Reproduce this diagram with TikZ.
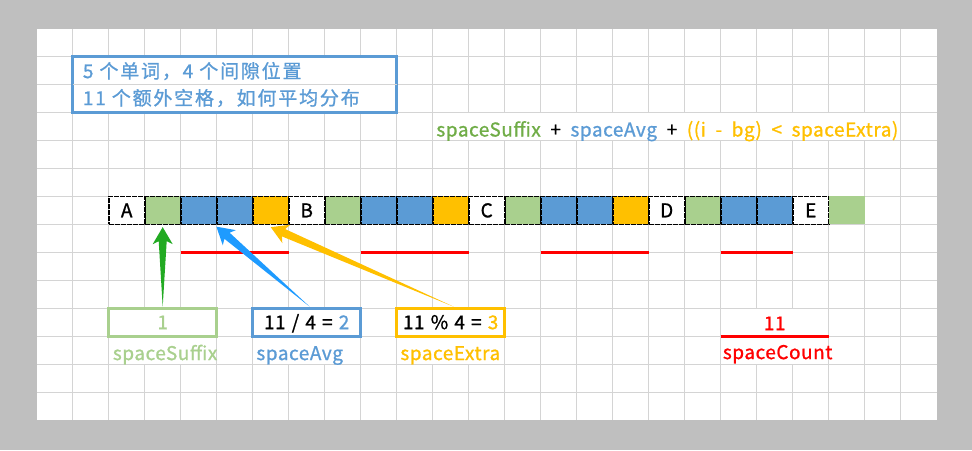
\documentclass[tikz,border=0pt]{standalone}
\usepackage{fontspec}
\setmainfont{Noto Sans CJK SC}[FakeBold=1,LetterSpace=2.8,WordSpace=2.0]
\newfontfamily\cjkfont{Noto Sans CJK SC}[FakeBold=1,LetterSpace=9.5]
\newfontfamily\boxfont{Noto Sans CJK SC}[FakeBold=1,LetterSpace=2.5,WordSpace=1.3]
\usetikzlibrary{calc}
\definecolor{bggray}{HTML}{BFBFBF}
\definecolor{gridc}{HTML}{D4D4D4}
\definecolor{lgreen}{HTML}{A9D08E}
\definecolor{dgreen}{HTML}{70AD47}
\definecolor{xblue}{HTML}{5B9BD5}
\definecolor{xorange}{HTML}{FFC000}
\definecolor{xred}{HTML}{FF0000}
\definecolor{agreen}{HTML}{22AA22}
\definecolor{ablue}{HTML}{1E9BFF}
\newcommand\taperarrow[3]{%
  \coordinate (tn) at ($(#3)!14pt!(#2)$);
  \coordinate (tb) at ($(#3)!17pt!(#2)$);
  \fill[#1] (#2) -- ($(tn)!4pt!90:(#3)$) -- ($(tb)!10pt!90:(#3)$) -- (#3)
    -- ($(tb)!10pt!-90:(#3)$) -- ($(tn)!4pt!-90:(#3)$) -- cycle;
}
\newcommand\blankcells[4]{%
  \fill[white] ([shift={(0.6pt,-0.6pt)}]#1,#2) rectangle ([shift={(-0.6pt,0.6pt)}]#3,#4);
}
\begin{document}
\begin{tikzpicture}[x=36pt,y=-27.95pt,shift={(36.7pt,-28.7pt)},
  font=\fontsize{19}{23}\selectfont,
  gridline/.style={draw=gridc,line width=1pt},
  cellbox/.style={minimum width=36pt,minimum height=27.95pt,inner sep=0pt,
    draw=black,dash pattern=on 5pt off 1pt,line width=1.6pt},
  valbox/.style={minimum width=108pt,minimum height=27.95pt,inner sep=0pt,
    fill=white,line width=3pt,text height=14pt,text depth=0pt,
    font=\fontsize{19}{23}\boxfont},
  lbl/.style={anchor=base west,inner sep=0pt},
  redline/.style={draw=xred,line width=3pt}]
% background and sheet
\fill[bggray] (-36.7pt,28.7pt) rectangle ++(972pt,-450pt);
\fill[white] (0,0) rectangle (25,14);
\foreach \k in {1,...,24} \draw[gridline] (\k,0) -- (\k,14);
\foreach \j in {1,...,13} \draw[gridline] (0,\j) -- (25,\j);
% areas where text hides grid lines
\blankcells{11}{3}{24}{4}
\blankcells{2}{11}{5}{12}
\blankcells{6}{11}{9}{12}
\blankcells{10}{11}{13}{12}
\blankcells{19}{10}{22}{12}
% note box
\node[draw=xblue,line width=3pt,fill=white,minimum width=324pt,minimum height=55.9pt,inner sep=0pt] (note) at (5.5,2) {};
\draw[gridline,shorten <=1.5pt,shorten >=1.5pt] (note.west) -- (note.east);
\node[lbl,text=xblue,font=\fontsize{19}{23}\cjkfont] (l1) at ($(1,2)+(10pt,6.5pt)$) {5 个单词，4 个间隙位置};
\node[lbl,text=xblue,font=\fontsize{19}{23}\cjkfont] (l2) at ($(1,3)+(10pt,7.5pt)$) {11 个额外空格，如何平均分布};
% formula
\node[lbl] (fml) at ($(11,4)+(3.5pt,4pt)$) {\textcolor{dgreen}{spaceSuffix} + \textcolor{xblue}{spaceAvg} + \textcolor{xorange}{((i - bg) < spaceExtra)}};
% cells
\foreach \k/\c in {3/lgreen,4/xblue,5/xblue,6/xorange,8/lgreen,9/xblue,10/xblue,11/xorange,13/lgreen,14/xblue,15/xblue,16/xorange,18/lgreen,19/xblue,20/xblue}
  \node[cellbox,fill=\c] (c\k) at (\k+0.5,6.5) {};
\foreach \k/\t in {2/A,7/B,12/C,17/D,21/E}
  \node[cellbox,fill=white] (c\k) at (\k+0.5,6.5) {\t};
\node[cellbox,fill=lgreen,draw=none] (c22) at (22.5,6.5) {};
% red underlines
\draw[redline] (4,8) -- (7,8);
\draw[redline] (9,8) -- (12,8);
\draw[redline] (14,8) -- (17,8);
\draw[redline] (19,8) -- (21,8);
% value boxes
\node[valbox,draw=lgreen,text=lgreen] (sfx) at (3.5,10.5) {1};
\node[valbox,draw=xblue] (avg) at (7.5,10.5) {11 / 4 = \textcolor{xblue}{2}};
\node[valbox,draw=xorange] (ext) at (11.5,10.5) {11 \% 4 = \textcolor{xorange}{3}};
\node[inner sep=0pt,text=xred,text height=14pt,text depth=0pt,minimum height=20pt] (cnt) at ($(20.5,11)+(0,13pt)$) {11};
\draw[redline] (19,11) -- (22,11);
% labels
\node[lbl,text=lgreen] (sfxl) at ($(2,12)+(4pt,4pt)$) {spaceSuffix};
\node[lbl,text=xblue] (avgl) at ($(6,12)+(3.5pt,4pt)$) {spaceAvg};
\node[lbl,text=xorange] (extl) at ($(10,12)+(3.5pt,4pt)$) {spaceExtra};
\node[lbl,text=xred] (cntl) at ($(19,12)+(2pt,5pt)$) {spaceCount};
% arrows
\coordinate (gT) at (sfx.north);
\coordinate (gH) at ($(c3.south)+(0,-2pt)$);
\coordinate (bT) at ($(avg.north)+(3pt,0)$);
\coordinate (bH) at ($(c5.south west)+(0.5pt,-1.5pt)$);
\coordinate (oT) at ($(ext.north)+(3pt,0)$);
\coordinate (oH) at ($(c6.south)+(0,-2pt)$);
\taperarrow{agreen}{gT}{gH}
\taperarrow{ablue}{bT}{bH}
\taperarrow{xorange}{oT}{oH}
\end{tikzpicture}
\end{document}
